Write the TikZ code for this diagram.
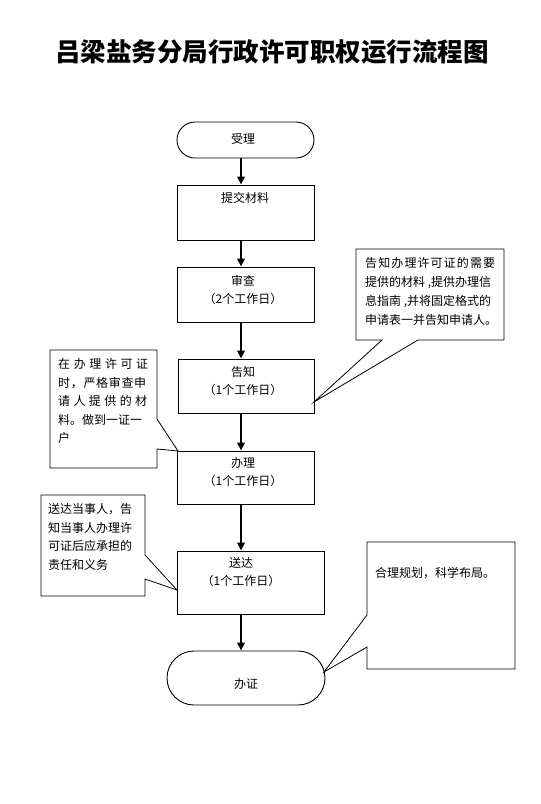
\documentclass[tikz,border=0pt]{standalone}
\usepackage{fontspec}
\setmainfont{Noto Sans CJK SC}
\usetikzlibrary{arrows.meta}
\def\sprEnd{sprEnd}
\def\spr#1{\sprA#1\sprEnd}
\def\sprA#1{\ifx#1\sprEnd\else#1\expandafter\sprB\fi}
\def\sprB#1{\ifx#1\sprEnd\else\hfill#1\expandafter\sprB\fi}
\newcommand\jl[2]{\makebox[#1][s]{\spr{#2}}}
\begin{document}
\begin{tikzpicture}[x=1pt,y=-1pt,
  box/.style={draw=black,line width=0.9pt,inner sep=0pt,fill=white},
  term/.style={box},
  txt/.style={inner sep=0pt,font=\fontsize{12}{18}\selectfont,align=center,anchor=base},
  ctxt/.style={inner sep=0pt,font=\fontsize{12}{19}\selectfont,align=left,anchor=base west},
  flow/.style={line width=1.8pt,-{Triangle[width=7.5pt,length=8pt]}},
  call/.style={draw=black,line width=0.8pt,line join=miter}]
\useasboundingbox (0,0) rectangle (541,804);
% title
\node[inner sep=0pt,font=\fontsize{25.5}{28}\selectfont\bfseries,anchor=center] (title) at (272,52) {吕梁盐务分局行政许可职权运行流程图};
% flow boxes
\node[term,minimum width=137pt,minimum height=36pt,rounded corners=18pt] (shouli) at (245.5,140) {};
\node[box,minimum width=137pt,minimum height=55pt] (tijiao) at (245.5,212.5) {};
\node[box,minimum width=137pt,minimum height=55pt] (shencha) at (245.5,294.5) {};
\node[box,minimum width=136pt,minimum height=54pt] (gaozhi) at (246,386) {};
\node[box,minimum width=137pt,minimum height=53pt] (banli) at (245.5,477.5) {};
\node[box,minimum width=147pt,minimum height=63pt] (songda) at (250.5,582.5) {};
\node[term,minimum width=158pt,minimum height=54pt,rounded corners=27pt] (banzheng) at (246,678) {};
% box texts (base = last line baseline)
\node[txt] (t1) at (243,143.6) {受理};
\node[txt] (t2) at (245,202.8) {提交材料};
\node[txt] (t3) at (243,303.8) {审查\\（2个工作日）};
\node[txt] (t4) at (243,394.6) {告知\\（1个工作日）};
\node[txt] (t5) at (243,485.6) {办理\\（1个工作日）};
\node[txt] (t6) at (241,585.6) {送达\\（1个工作日）};
\node[txt] (t7) at (246,688.6) {办证};
% arrows
\coordinate (ax) at (241,0);
\draw[flow] (shouli.south -| ax) -- (tijiao.north -| ax);
\draw[flow] (tijiao.south -| ax) -- (shencha.north -| ax);
\draw[flow] (shencha.south -| ax) -- (gaozhi.north -| ax);
\draw[flow] (gaozhi.south -| ax) -- (banli.north -| ax);
\draw[flow] (banli.south -| ax) -- (songda.north -| ax);
\draw[flow] (songda.south -| ax) -- (banzheng.north -| ax);
% callout 1
\coordinate (tip1) at (314,402);
\draw[call,fill=white] (356,249) -- (504,249) -- (504,340) -- (418,340) -- (tip1) -- (382,340) -- (356,340) -- cycle;
\node[ctxt] (c1) at (365,324.6) {\jl{130pt}{告知办理许可证的需要}\\提供的材料 ,提供办理信\\息指南 ,并将固定格式的\\申请表一并告知申请人。};
% callout 2
\coordinate (tip2) at (178,451);
\draw[call,fill=white] (50,350) -- (157,350) -- (157,419) -- (tip2) -- (157,449) -- (157,468) -- (50,468) -- cycle;
\node[ctxt,font=\fontsize{12}{18.5}\selectfont] (c2) at (58,442.6) {\jl{90pt}{在办理许可证}\\\jl{88pt}{时，严格审查申}\\\jl{89pt}{请人提供的材}\\料。做到一证一\\户};
% callout 3
\coordinate (tip3) at (177,590);
\draw[call,fill=white] (41,495) -- (145,495) -- (145,555) -- (tip3) -- (145,579) -- (145,596) -- (41,596) -- cycle;
\node[ctxt,font=\fontsize{12}{18.7}\selectfont] (c3) at (48,569.6) {送达当事人，告\\知当事人办理许\\可证后应承担的\\责任和义务};
% callout 4
\coordinate (tip4) at (324,672);
\draw[call,fill=white] (367,542) -- (515,542) -- (515,669) -- (367,669) -- (367,647) -- (tip4) -- (367,615) -- cycle;
\node[ctxt] (c4) at (375,577.6) {合理规划，科学布局。};
\end{tikzpicture}
\end{document}
